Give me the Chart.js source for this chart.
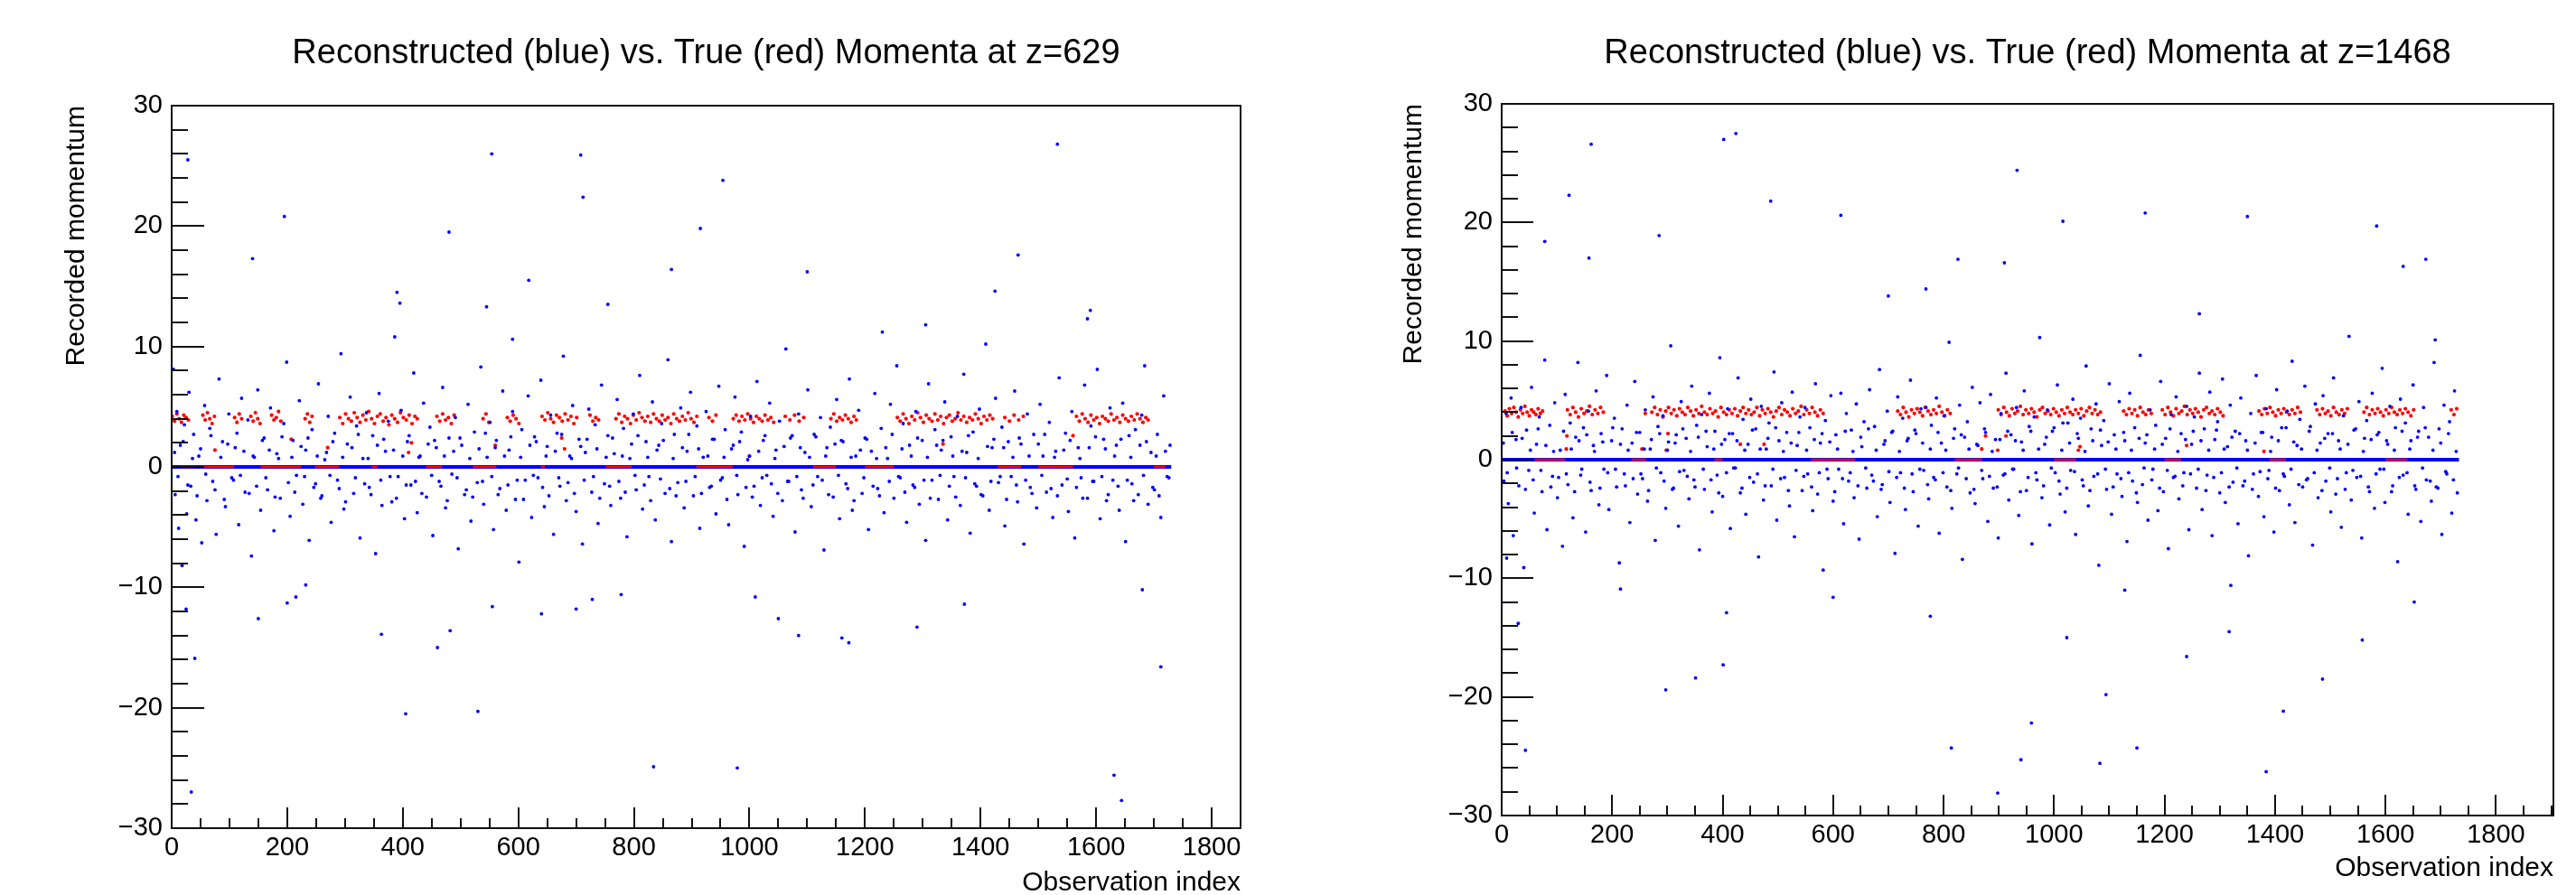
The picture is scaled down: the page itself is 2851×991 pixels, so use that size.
<!DOCTYPE html>
<html>
<head>
<meta charset="utf-8">
<script src="https://cdn.jsdelivr.net/npm/chart.js@4.4.1/dist/chart.umd.min.js"></script>
<style>
  html, body { margin: 0; padding: 0; background: #fff; }
  #wrap { position: relative; width: 2851px; height: 991px; }
  canvas { position: absolute; top: 0; }
</style>
</head>
<body>
<div id="wrap">
  <canvas id="cL" width="1425" height="991" style="left:0"></canvas>
  <canvas id="cR" width="1426" height="991" style="left:1425px"></canvas>
</div>
<script>
// Observation index ranges where the reconstruction sits on 0 (dense blue line)
const blueZeroL = [[0, 1730]];
const blueZeroR = [[0, 1733]];

// Ranges where true momentum sits on 0 and shows over the blue line
const redZeroL = [[14, 42], [49, 108], [154, 224], [248, 290], [346, 356], [440, 468], [521, 562], [639, 646], [751, 796], [908, 971], [1110, 1150], [1200, 1250], [1430, 1470], [1500, 1560], [1700, 1720]];
const redZeroR = [[60, 115], [235, 262], [385, 400], [560, 640], [820, 870], [1000, 1040], [1200, 1230], [1390, 1420], [1600, 1640]];

// True momenta (red), z=629
const redL = [
  [1,4.2],[5,3.8],[9,4.4],[13,4.0],[17,3.7],[21,4.3],[25,4.1],[29,3.9],
  [54,4.3],[58,3.9],[62,4.5],[66,4.0],[70,3.6],[74,4.2],
  [109,4.1],[113,3.7],[117,4.4],[121,4.0],
  [137,4.2],[141,3.8],[145,4.5],[149,4.0],[153,3.6],
  [173,4.3],[177,3.9],[181,4.1],[185,4.6],[189,3.8],
  [231,4.0],[235,4.4],[239,3.7],[243,4.2],
  [291,4.1],[296,3.6],[301,4.4],[306,4.0],[311,3.8],[316,4.5],[321,4.1],[326,3.7],[331,4.3],[336,3.9],[341,4.6],[346,4.0],[351,3.6],[356,4.2],[361,4.4],[366,3.8],[371,4.1],[376,3.5],[381,4.3],[386,4.0],[391,3.7],[396,4.5],[401,4.1],[406,3.9],[411,4.3],[416,3.6],[421,4.2],[425,4.0],
  [459,4.2],[464,3.8],[469,4.4],[474,3.9],[479,4.1],[484,3.6],[489,4.3],
  [539,4.0],[544,4.4],[549,3.7],
  [581,4.1],[586,3.8],[591,4.3],[596,4.0],[601,3.6],
  [641,4.2],[646,3.9],[651,4.5],[656,4.0],[661,3.7],[666,4.3],[671,4.1],[676,3.8],[681,4.4],[686,3.9],[691,4.2],[696,3.6],[701,4.1],
  [724,4.3],[729,3.8],[734,4.1],[739,3.9],
  [769,4.0],[774,4.4],[779,3.7],[784,4.2],[789,4.0],[794,3.6],[799,4.3],[804,3.9],[809,4.5],[814,4.1],[819,3.8],[824,4.2],[829,3.7],[834,4.4],[839,4.0],[844,3.8],[849,4.3],[854,3.9],[859,4.1],[864,3.6],[869,4.4],[874,4.0],[879,3.8],[884,4.2],[889,3.9],[894,4.5],[899,4.0],[904,3.7],[909,4.2],
  [930,4.1],[936,3.8],[942,4.3],
  [972,4.0],[977,4.3],[982,3.8],[987,4.2],[992,3.9],[997,4.4],[1002,4.0],[1007,3.7],[1012,4.2],[1017,4.0],[1022,3.8],[1027,4.3],[1032,3.9],[1037,4.1],[1042,3.7],
  [1062,4.2],[1070,3.9],[1078,4.3],[1086,3.8],[1094,4.1],
  [1141,4.0],[1146,4.4],[1151,3.8],[1156,4.1],[1161,3.9],[1166,4.3],[1171,4.0],[1176,3.7],[1181,4.2],[1185,3.9],
  [1256,4.1],[1261,3.8],[1266,4.4],[1271,4.0],[1276,3.6],[1281,4.2],[1286,3.9],[1291,4.5],[1296,4.1],[1301,3.7],[1306,4.3],[1311,4.0],[1316,3.8],[1321,4.4],[1326,3.9],[1331,4.2],[1336,3.6],[1341,4.1],[1346,4.3],[1351,3.8],[1356,4.0],[1361,4.5],[1366,3.9],[1371,4.2],[1376,3.7],[1381,4.1],[1386,3.9],[1391,4.4],[1396,4.0],[1401,3.6],[1406,4.2],[1411,3.9],[1416,4.3],[1421,4.0],
  [1442,4.1],[1450,3.8],[1458,4.3],[1466,3.9],[1474,4.2],
  [1566,4.2],[1571,3.8],[1576,4.4],[1581,4.0],[1586,3.7],[1591,4.3],[1596,3.9],[1601,4.1],[1606,3.6],[1611,4.2],[1616,4.0],[1621,3.8],[1626,4.4],[1631,3.9],[1636,4.1],[1641,3.7],[1646,4.3],[1651,4.0],[1656,3.8],[1661,4.2],[1666,3.9],[1671,4.4],[1676,4.0],[1681,3.7],[1686,4.1],[1690,3.9],
  [75,1.4],[207,2.3],[270,1.6],[410,1.2],[415,2.0],[560,1.8],[675,2.4],[680,1.5],[1000,0.9],[1335,1.9],[1560,2.6]
];

// Reconstructed momenta (blue), z=629: spread points and outliers
const blueL = [
  [3,8.1],[6,-2.3],[9,4.6],[12,-5.1],[15,1.8],[18,-8.2],[22,3.5],[26,-3.9],[30,6.2],[33,-1.6],[38,2.7],[42,-4.4],[47,0.9],[52,-6.3],[57,5.1],[61,-2.8],[66,3.2],[71,-1.2],[77,-5.6],[82,7.3],[88,2.1],[93,-3.3],[99,4.4],[104,-0.9],[110,1.6],[116,-4.8],[121,5.7],[127,-2.1],[132,3.9],[138,-7.4],[143,0.8],[149,6.4],[154,-3.6],[160,2.4],[166,-1.9],[171,4.9],[177,-5.3],[182,1.1],[188,-2.6],[194,3.6],[199,8.7],[205,-4.1],[210,2.2],[216,-0.7],[221,5.5],[227,-3.1],[232,1.4],[238,-6.1],[243,3.1],[249,-1.4],[254,6.9],[260,-2.4],[265,0.6],[271,4.2],[276,-4.6],[282,2.8],[287,-1.1],[293,9.4],[298,-3.5],[304,1.9],[309,5.8],[315,-2.2],[320,3.4],[326,-5.9],[331,0.7],[337,4.5],[342,-1.7],[348,2.6],[353,-7.2],[359,6.1],[364,-3.2],[370,1.3],[375,3.8],[381,-2.9],[386,10.8],[392,-0.8],[397,4.7],[403,-4.3],[408,2.1],[414,-1.5],[419,7.8],[425,-3.8],[430,0.9],[436,5.3],[441,-2.5],[447,3.3],[452,-5.7],[458,1.6],[463,-1.2],[469,6.6],[474,-3.4],[480,2.4],[485,-0.6],[491,4.1],[496,-6.8],[502,1.8],[507,-2.3],[513,5.2],[518,-4.5],[524,2.9],[529,-1.3],[535,8.3],[540,-3.1],[546,0.8],[551,3.7],[557,-5.2],[562,2.2],[568,-1.8],[573,6.3],[579,-3.6],[584,1.4],[590,4.6],[595,-2.7],[601,-7.9],[606,3.1],[612,-1.1],[617,5.9],[623,-4.2],[628,2.5],[634,-0.9],[639,7.2],[645,-3.3],[650,1.7],[656,4.3],[661,-5.6],[667,2.8],[672,-1.6],[678,9.2],[683,-2.8],[689,0.9],[694,5.1],[700,-3.7],[705,2.3],[711,-6.4],[716,1.2],[722,4.8],[727,-2.1],[733,3.5],[738,-4.7],[744,6.8],[749,-1.4],[755,2.6],[760,-3.2],[766,1.1],[771,5.6],[777,-2.6],[782,3.2],[788,-5.8],[793,0.7],[799,4.4],[804,-1.9],[810,7.6],[815,-3.5],[821,2.1],[826,-0.8],[832,5.4],[837,-4.4],[843,1.8],[848,3.6],[854,-2.2],[859,8.9],[865,-6.2],[870,2.7],[876,-1.3],[881,4.9],[887,-3.4],[892,1.3],[898,6.2],[903,-2.4],[909,3.4],[914,-5.1],[920,0.8],[925,4.6],[931,-1.7],[936,2.3],[942,-3.9],[947,6.7],[953,-0.9],[958,3.1],[964,-4.8],[969,1.5],[975,5.8],[980,-2.3],[986,2.9],[991,-6.6],[997,0.6],[1002,4.2],[1008,-1.6],[1013,7.1],[1019,-3.2],[1024,2.2],[1030,-0.7],[1035,5.3],[1041,-4.1],[1046,1.4],[1052,3.8],[1057,-2.8],[1063,9.8],[1068,-1.2],[1074,2.6],[1079,-5.4],[1085,4.4],[1090,-1.9],[1096,1.2],[1101,6.4],[1107,-3.3],[1112,2.7],[1118,-0.8],[1123,4.1],[1129,-6.9],[1134,1.6],[1140,3.3],[1145,-2.5],[1151,5.6],[1156,-4.3],[1162,2.1],[1167,-1.4],[1173,7.3],[1178,-3.6],[1184,0.9],[1189,4.7],[1195,-2.2],[1200,2.4],[1206,-5.2],[1211,1.3],[1217,6.1],[1222,-1.8],[1228,3.2],[1233,-3.8],[1239,0.7],[1244,5.2],[1250,-2.6],[1255,8.4],[1261,-0.9],[1266,3.6],[1272,-4.6],[1277,1.8],[1283,-1.5],[1288,4.6],[1294,-3.1],[1299,2.2],[1305,-6.1],[1310,6.9],[1316,-1.1],[1321,3.1],[1327,-2.7],[1332,1.4],[1338,5.4],[1343,-4.4],[1349,2.5],[1354,-0.8],[1360,4.2],[1365,-3.2],[1371,7.7],[1376,1.2],[1382,-5.5],[1387,2.9],[1393,-1.6],[1398,4.8],[1404,-2.4],[1409,10.2],[1415,-3.6],[1420,1.6],[1426,5.7],[1431,-1.3],[1437,3.3],[1442,-4.9],[1448,2.1],[1453,-0.8],[1459,6.3],[1464,-2.9],[1470,1.9],[1475,-6.4],[1481,4.4],[1486,-1.7],[1492,2.7],[1497,-3.4],[1503,5.2],[1508,0.9],[1514,-2.1],[1519,3.7],[1525,-4.2],[1530,1.3],[1536,7.4],[1541,-1.5],[1547,2.8],[1552,-3.7],[1558,4.6],[1563,-5.9],[1569,1.6],[1574,-0.9],[1580,6.8],[1585,-2.6],[1591,3.4],[1596,-1.2],[1602,8.1],[1607,-4.3],[1613,2.3],[1618,-2.8],[1624,4.9],[1629,-1.1],[1635,1.8],[1640,-3.6],[1646,5.3],[1651,-6.2],[1657,2.6],[1662,-1.4],[1668,3.1],[1673,-2.3],[1679,4.3],[1684,8.4],[1690,-3.1],[1695,1.2],[1701,-1.9],[1706,2.7],[1712,-4.2],[1717,5.9],[1723,-0.8],[1728,1.8],
  [28,25.5],[554,26.0],[708,25.9],[712,22.4],[954,23.8],[1533,26.8],[195,20.8],[140,17.3],[480,19.5],[915,19.8],[865,16.4],[1100,16.2],[618,15.5],[390,14.5],[395,13.6],[545,13.3],[755,13.5],[1590,13.0],[1585,12.3],[1465,17.6],[1425,14.6],[1305,11.8],[1230,11.2],[590,10.6],
  [40,-15.9],[34,-27.0],[25,-11.8],[200,-11.3],[215,-10.8],[232,-9.8],[405,-20.5],[460,-15.0],[482,-13.6],[530,-20.3],[555,-11.6],[700,-11.8],[728,-11.0],[778,-10.6],[834,-24.9],[979,-25.0],[1050,-12.6],[1085,-14.0],[1160,-14.2],[1172,-14.6],[1290,-13.3],[1372,-11.4],[1631,-25.6],[1644,-27.7],[1680,-10.2],[1712,-16.6],[1010,-10.8],[640,-12.2],[363,-13.9],[150,-12.6]
];

// Reconstructed momenta (blue), z=629: points close to zero
const blueNearL = [
  [5,1.2],[11,-0.8],[20,2.1],[28,-1.5],[36,0.7],[44,-2.4],[50,1.5],[59,-0.6],[68,2.6],[75,-1.9],[85,0.8],[91,-2.7],[97,1.9],[107,-1.1],[113,2.8],[119,-0.7],[125,1.3],[134,-2.2],[141,0.9],[147,-1.6],[157,2.2],[163,-0.9],[169,1.4],[179,-2.5],[185,0.7],[191,2.5],[202,-1.3],[208,0.8],[213,-2.1],[224,1.7],[230,-0.8],[236,2.4],[246,-1.7],[252,0.9],[258,-2.6],[268,1.2],[274,-0.7],[279,2.1],[290,-1.8],[296,0.8],[301,-2.9],[312,1.6],[318,-0.9],[323,2.7],[334,-1.4],[340,0.7],[345,-2.3],[356,1.8],[362,-1.1],[367,2.3],[378,-0.8],[384,1.4],[389,-2.6],[400,0.9],[406,-1.5],[411,2.6],[422,-1.2],[428,0.8],[433,-2.2],[444,1.9],[450,-0.7],[455,2.2],[466,-1.6],[472,0.9],[477,-2.8],[488,1.3],[494,-0.9],[499,2.4],[510,-1.9],[516,0.7],[521,-2.5],[532,1.5],[538,-1.2],[543,2.8],[554,-0.8],[560,1.6],[565,-2.3],[576,0.9],[582,-1.5],[587,2.5],[598,-1.1],[604,0.8],[609,-2.7],[620,1.8],[626,-0.7],[631,2.1],[642,-1.7],[648,0.9],[653,-2.4],[664,1.3],[670,-0.9],[675,2.7],[686,-1.3],[692,0.7],[697,-2.2],[708,1.7],[714,-1.1],[719,2.3],[730,-0.8],[736,1.5],[741,-2.6],[752,0.8],[758,-1.6],[763,2.4],[774,-1.2],[780,0.9],[785,-2.1],[796,1.9],[802,-0.7],[807,2.6],[818,-1.5],[824,0.8],[829,-2.8],[840,1.4],[846,-1.0],[851,2.2],[862,-1.8],[868,0.7],[873,-2.4],[884,1.6],[890,-1.2],[895,2.7],[906,-0.8],[912,1.5],[917,-2.2],[928,0.9],[934,-1.6],[939,2.3],[950,-1.1],[956,0.8],[961,-2.7],[972,1.8],[978,-0.7],[983,2.1],[994,-1.7],[1000,0.9],[1005,-2.5],[1016,1.3],[1022,-0.9],[1027,2.6],[1038,-1.4],[1044,0.7],[1049,-2.2],[1060,1.7],[1066,-1.2],[1071,2.4],[1082,-0.8],[1088,1.6],[1093,-2.6],[1104,0.8],[1110,-1.5],[1115,2.5],[1126,-1.1],[1132,0.9],[1137,-2.3],[1148,1.9],[1154,-0.7],[1159,2.2],[1170,-1.8],[1176,0.8],[1181,-2.8],[1192,1.4],[1198,-0.9],[1203,2.3],[1214,-1.6],[1220,0.7],[1225,-2.4],[1236,1.6],[1242,-1.2],[1247,2.7],[1258,-0.8],[1264,1.5],[1269,-2.1],[1280,0.9],[1286,-1.7],[1291,2.4],[1302,-1.1],[1308,0.8],[1313,-2.6],[1324,1.8],[1330,-0.7],[1335,2.2],[1346,-1.6],[1352,0.9],[1357,-2.5],[1368,1.3],[1374,-0.9],[1379,2.6],[1390,-1.4],[1396,0.7],[1401,-2.3],[1412,1.7],[1418,-1.2],[1423,2.3],[1434,-0.8],[1440,1.6],[1445,-2.7],[1456,0.8],[1462,-1.5],[1467,2.4],[1478,-1.1],[1484,0.9],[1489,-2.2],[1500,1.9],[1506,-0.7],[1511,2.7],[1522,-1.8],[1528,0.8],[1533,-2.4],[1544,1.4],[1550,-1.0],[1555,2.2],[1566,-1.7],[1572,0.7],[1577,-2.6],[1588,1.6],[1594,-1.2],[1599,2.5],[1610,-0.8],[1616,1.5],[1621,-2.3],[1632,0.9],[1638,-1.6],[1643,2.3],[1654,-1.1],[1660,0.8],[1665,-2.8],[1676,1.8],[1682,-0.7],[1687,2.1],[1698,-1.7],[1704,0.9],[1709,-2.4],[1720,1.3],[1726,-0.9]
];

// True momenta (red), z=1468
const redR = [
  [6,4.1],[10,3.7],[14,4.3],[18,3.9],[22,4.4],[26,4.0],[30,3.6],[34,4.2],[38,3.9],[42,4.5],[46,4.0],[50,3.7],[54,4.2],[58,4.0],[62,3.8],[66,4.3],[70,3.9],[74,4.1],
  [119,4.2],[124,3.8],[129,4.4],[134,4.0],[139,3.6],[144,4.3],[149,3.9],[154,4.1],[159,4.5],[164,3.8],[169,4.2],[174,3.9],[179,4.4],[184,4.0],
  [260,3.9],
  [272,4.0],[277,4.4],[282,3.8],[287,4.2],[292,3.6],[297,4.1],[302,4.4],[307,3.9],[312,4.2],[317,3.7],[322,4.3],[327,4.0],[332,3.8],[337,4.4],[342,4.1],[347,3.7],[352,4.2],[357,3.9],[362,4.5],[367,4.0],[372,3.8],[377,4.3],[382,3.9],[387,4.1],[392,3.6],[397,4.4],[402,4.0],[407,3.8],[412,4.2],[417,3.9],[422,4.3],[427,3.7],[432,4.1],[437,4.4],[442,3.9],[447,4.2],[452,3.8],[457,4.0],[462,4.4],[467,3.7],[472,4.2],[477,3.9],[482,4.3],[487,4.0],[492,3.6],[497,4.1],[502,4.4],[507,3.8],[512,4.2],[517,4.0],[522,3.7],[527,4.3],[532,3.9],[537,4.1],[542,4.5],[547,3.8],[552,4.2],[557,3.9],[562,4.4],[567,4.0],[572,3.7],[577,4.2],[582,3.9],
  [717,4.1],[722,3.8],[727,4.4],[732,4.0],[737,3.6],[742,4.2],[747,3.9],[752,4.3],[757,4.0],[762,3.7],[767,4.4],[772,4.1],[777,3.8],[782,4.2],[787,3.9],[792,4.5],[797,4.0],[802,3.7],[807,4.2],[812,3.9],
  [899,4.2],[904,3.8],[909,4.4],[914,4.0],[919,3.7],[924,4.3],[929,3.9],[934,4.1],[939,4.5],[944,3.8],[949,4.2],[954,3.9],[959,4.3],[964,4.0],[969,3.6],[974,4.2],[979,4.4],[984,3.9],[989,4.1],[994,3.8],[999,4.3],[1004,4.0],[1009,3.7],[1014,4.2],[1019,3.9],[1024,4.4],[1029,4.0],[1034,3.8],[1039,4.2],[1044,3.9],[1049,4.3],[1054,3.7],[1059,4.1],[1064,4.4],[1069,3.9],[1074,4.2],[1079,3.8],[1084,4.0],
  [1126,4.1],[1131,3.8],[1136,4.3],[1141,3.9],[1146,4.2],[1151,3.7],[1156,4.4],[1161,4.0],[1166,3.8],[1171,4.2],[1176,3.9],
  [1196,4.2],[1201,3.8],[1206,4.4],[1211,4.0],[1216,3.7],[1221,4.3],[1226,3.9],[1231,4.1],[1236,4.5],[1241,3.8],[1246,4.2],[1251,3.9],[1256,4.3],[1261,4.0],[1266,3.6],[1271,4.2],[1276,4.4],[1281,3.9],[1286,4.1],[1291,3.8],[1296,4.3],[1301,4.0],[1306,3.7],
  [1371,4.1],[1376,3.8],[1381,4.3],[1386,3.9],[1391,4.4],[1396,4.0],[1401,3.7],[1406,4.2],[1411,3.9],[1416,4.3],[1421,4.0],[1426,3.8],[1431,4.2],[1436,3.9],[1441,4.4],[1446,4.0],
  [1476,4.2],[1481,3.8],[1486,4.3],[1491,3.9],[1496,4.1],[1501,3.7],[1506,4.4],[1511,4.0],[1516,3.8],[1521,4.2],[1526,3.9],[1531,4.3],
  [1561,4.0],[1566,4.4],[1571,3.8],[1576,4.2],[1581,3.9],[1586,4.3],[1591,4.0],[1596,3.7],[1601,4.2],[1606,3.9],[1611,4.4],[1616,4.0],[1621,3.8],[1626,4.2],[1631,3.9],[1636,4.3],[1641,4.0],[1646,3.7],[1651,4.2],
  [1719,4.2],[1724,3.8],[1729,4.3],
  [118,2.0],[117,0.9],[254,0.9],[298,0.8],[301,2.2],[432,1.3],[475,1.3],[869,0.9],[876,2.0],[913,2.0],[898,0.8],[1044,0.8],[1047,1.1],[1240,1.2],[1380,0.7]
];

// Reconstructed momenta (blue), z=1468: spread points and outliers
const blueR = [
  [4,-1.8],[8,3.9],[12,-3.7],[17,5.2],[21,-6.4],[26,1.7],[31,-2.2],[35,4.4],[40,-9.1],[45,2.5],[49,-0.9],[54,6.1],[59,-4.5],[63,1.3],[68,3.6],[73,-2.7],[78,8.4],[82,-5.9],[87,2.9],[92,-1.4],[96,4.8],[101,-3.2],[106,0.8],[110,-7.3],[115,5.5],[120,-2.1],[124,3.1],[129,-4.9],[134,1.9],[138,8.2],[143,-1.3],[148,2.7],[152,-6.1],[157,4.1],[162,-2.6],[166,1.2],[171,5.8],[176,-3.8],[180,2.2],[185,-0.8],[190,7.1],[194,-4.2],[199,1.6],[204,3.5],[208,-2.3],[213,-8.7],[218,2.6],[222,-1.2],[227,4.6],[232,-5.3],[236,1.4],[241,6.6],[246,-2.9],[250,2.3],[255,-1.6],[260,4.2],[264,-3.5],[269,0.9],[274,5.3],[278,-6.8],[283,2.8],[288,-1.1],[292,3.7],[297,-4.1],[302,1.5],[306,9.6],[311,-2.4],[316,2.1],[320,-5.6],[325,4.9],[330,-0.9],[334,1.8],[339,-3.3],[344,6.2],[348,-1.7],[353,2.9],[358,-7.6],[362,3.8],[367,-2.5],[372,1.1],[376,5.6],[381,-4.4],[386,2.4],[390,-1.3],[395,8.6],[400,-3.1],[404,1.7],[409,4.3],[414,-5.8],[418,2.2],[423,-0.7],[428,6.9],[432,-2.8],[437,3.4],[442,-4.6],[446,1.3],[451,5.1],[456,-1.9],[460,2.6],[465,-8.2],[470,4.5],[474,-3.4],[479,0.9],[484,3.1],[488,-2.2],[493,7.4],[498,-5.1],[502,1.6],[507,4.8],[512,-1.5],[516,2.3],[521,-3.9],[526,5.7],[530,-6.5],[535,1.2],[540,3.6],[544,-2.6],[549,4.4],[554,-1.2],[558,2.7],[563,-4.3],[568,6.4],[572,-2.9],[577,1.4],[582,-9.3],[586,3.3],[591,-1.6],[596,5.4],[600,-3.5],[605,2.1],[610,-0.8],[614,5.6],[619,-5.4],[624,3.9],[628,-1.8],[633,2.5],[638,-3.2],[642,4.7],[647,-6.7],[652,1.1],[656,3.2],[661,-2.4],[666,5.9],[670,-1.3],[675,2.8],[680,-4.8],[684,7.6],[689,-2.1],[694,1.6],[698,4.1],[703,-3.6],[708,2.4],[712,-7.9],[717,5.3],[722,-1.1],[726,3.5],[731,-4.2],[736,1.8],[740,6.7],[745,-2.7],[750,2.2],[754,-5.6],[759,4.3],[764,-0.9],[768,4.4],[773,-3.3],[778,2.9],[782,-1.5],[787,5.2],[792,-6.2],[796,1.4],[801,3.7],[806,-2.3],[810,9.9],[815,-4.1],[820,2.6],[824,-1.2],[829,4.6],[834,-8.4],[838,1.9],[843,3.2],[848,-2.8],[852,6.1],[857,-3.7],[862,1.2],[866,4.8],[871,-1.6],[876,2.3],[880,-5.2],[885,5.5],[890,-2.4],[894,1.7],[899,-6.6],[904,3.9],[908,-1.3],[913,7.3],[918,-3.4],[922,2.1],[927,-0.8],[932,4.4],[936,-4.7],[941,1.5],[946,5.8],[950,-2.6],[955,2.8],[960,-7.1],[964,3.6],[969,-1.7],[974,10.3],[978,-3.2],[983,1.3],[988,4.2],[992,-5.5],[997,2.4],[1002,-1.1],[1006,6.3],[1011,-2.9],[1016,3.1],[1020,-4.4],[1025,3.1],[1030,-0.9],[1034,5.1],[1039,-6.3],[1044,1.8],[1048,3.5],[1053,-2.2],[1058,7.9],[1062,-3.9],[1067,2.6],[1072,-1.4],[1076,4.7],[1081,-8.9],[1086,1.2],[1090,3.3],[1095,-2.5],[1100,6.4],[1104,-4.6],[1109,2.1],[1114,-1.2],[1118,4.9],[1123,-3.1],[1128,1.6],[1132,-6.9],[1137,5.6],[1142,-1.8],[1146,2.7],[1151,-3.6],[1156,8.8],[1160,-2.1],[1165,1.4],[1170,-5.1],[1174,4.2],[1179,-0.8],[1184,2.9],[1188,-4.3],[1193,6.6],[1198,-2.7],[1202,1.8],[1207,-7.5],[1212,3.8],[1216,-1.5],[1221,5.3],[1226,-3.3],[1230,2.2],[1235,-1.1],[1240,4.5],[1244,-5.9],[1249,1.3],[1254,3.6],[1258,-2.4],[1263,7.3],[1268,-4.2],[1272,2.6],[1277,-1.3],[1282,5.7],[1286,-6.4],[1291,1.7],[1296,3.2],[1300,-2.8],[1305,6.8],[1310,-3.6],[1314,1.1],[1319,4.6],[1324,-1.9],[1328,2.4],[1333,-5.4],[1338,5.2],[1342,-2.2],[1347,1.6],[1352,-8.1],[1356,3.9],[1361,-1.2],[1366,7.1],[1370,-3.1],[1375,2.3],[1380,-4.8],[1384,4.3],[1389,-0.9],[1394,1.9],[1398,-6.1],[1403,5.9],[1408,-2.6],[1412,2.7],[1417,-1.4],[1422,4.1],[1426,-3.8],[1431,8.3],[1436,-5.3],[1440,1.2],[1445,3.4],[1450,-2.3],[1454,6.2],[1459,-1.6],[1464,2.8],[1468,-7.2],[1473,4.7],[1478,-3.2],[1482,1.4],[1487,5.4],[1492,-1.8],[1496,2.2],[1501,-4.4],[1506,6.9],[1510,-2.9],[1515,1.6],[1520,-5.7],[1524,3.7],[1529,-1.1],[1534,10.4],[1538,-3.4],[1543,2.5],[1548,-1.5],[1552,4.9],[1557,-6.6],[1562,1.8],[1566,3.3],[1571,-2.7],[1576,5.6],[1580,-4.1],[1585,2.1],[1590,-0.8],[1594,7.7],[1599,-3.6],[1604,1.3],[1608,4.5],[1613,-2.2],[1618,2.7],[1622,-8.6],[1627,5.1],[1632,-1.3],[1636,3.1],[1641,-4.6],[1646,1.6],[1650,6.3],[1655,-2.5],[1660,2.4],[1664,-5.2],[1669,4.4],[1674,-1.7],[1678,1.9],[1683,-3.5],[1688,8.2],[1692,-2.3],[1697,2.6],[1702,-6.3],[1706,4.6],[1711,-1.2],[1716,3.2],[1720,-4.5],[1725,5.8],[1730,-2.8],
  [162,26.6],[402,27.0],[424,27.5],[933,24.4],[122,22.3],[487,21.8],[285,18.9],[158,17.0],[78,18.4],[614,20.6],[1016,20.1],[1165,20.8],[1350,20.5],[826,16.9],[910,16.6],[1584,19.7],[1632,16.3],[1673,16.9],[768,14.4],[700,13.8],[1263,12.3],[1690,10.1],
  [43,-24.5],[814,-24.3],[1150,-24.3],[940,-25.3],[1083,-25.6],[1384,-26.3],[898,-28.1],[959,-22.2],[9,-8.3],[30,-13.8],[297,-19.4],[351,-18.4],[407,-12.9],[401,-17.3],[776,-13.2],[1094,-19.8],[1023,-15.0],[1240,-16.6],[1317,-14.5],[1415,-21.2],[1486,-18.5],[1558,-15.2],[600,-11.6],[1128,-11.0],[1320,-10.6],[215,-10.9],[1652,-12.0]
];

// Reconstructed momenta (blue), z=1468: points close to zero
const blueNearR = [
  [3,1.4],[10,-1.1],[19,2.3],[27,-0.7],[37,1.8],[43,-2.5],[52,0.8],[57,-1.7],[66,2.6],[71,-0.9],[80,1.2],[89,-2.3],[94,0.7],[103,-1.5],[112,2.4],[117,-1.2],[126,0.9],[132,-2.7],[140,1.6],[145,-0.8],[154,2.1],[160,-1.9],[168,0.7],[178,-2.4],[183,1.5],[192,-1.1],[201,2.7],[206,-0.8],[215,1.3],[224,-2.2],[229,0.8],[238,-1.6],[244,2.3],[252,-1.2],[258,0.9],[266,-2.6],[271,1.7],[280,-0.7],[286,2.2],[294,-1.8],[300,0.8],[309,-2.5],[314,1.4],[322,-1.0],[328,2.6],[336,-1.4],[342,0.7],[350,-2.3],[356,1.9],[365,-0.8],[370,2.4],[379,-1.7],[384,0.9],[393,-2.8],[398,1.3],[407,-1.1],[412,2.2],[420,-0.7],[426,1.6],[435,-2.4],[440,0.8],[449,-1.5],[454,2.5],[463,-1.2],[468,0.9],[477,-2.2],[482,1.8],[491,-0.8],[496,2.7],[505,-1.6],[510,0.7],[519,-2.6],[524,1.4],[533,-0.9],[538,2.3],[547,-1.4],[552,0.8],[561,-2.3],[566,1.7],[575,-1.1],[580,2.2],[589,-0.8],[594,1.5],[603,-2.7],[608,0.9],[617,-1.6],[622,2.4],[631,-1.1],[636,0.7],[645,-2.2],[650,1.9],[659,-0.7],[664,2.6],[673,-1.8],[678,0.8],[687,-2.5],[692,1.3],[701,-1.0],[706,2.3],[715,-1.5],[720,0.7],[729,-2.4],[734,1.6],[743,-1.2],[748,2.5],[757,-0.8],[762,1.4],[771,-2.1],[776,0.9],[785,-1.7],[790,2.3],[799,-1.1],[804,0.8],[813,-2.6],[818,1.8],[827,-0.7],[832,2.1],[841,-1.6],[846,0.9],[855,-2.5],[860,1.3],[869,-0.9],[874,2.6],[883,-1.4],[888,0.7],[897,-2.3],[902,1.7],[911,-1.2],[916,2.4],[925,-0.8],[930,1.6],[939,-2.7],[944,0.8],[953,-1.5],[958,2.4],[967,-1.1],[972,0.9],[981,-2.2],[986,1.9],[995,-0.7],[1000,2.7],[1009,-1.8],[1014,0.8],[1023,-2.4],[1028,1.4],[1037,-1.0],[1042,2.2],[1051,-1.7],[1056,0.7],[1065,-2.6],[1070,1.6],[1079,-1.2],[1084,2.5],[1093,-0.8],[1098,1.5],[1107,-2.3],[1112,0.9],[1121,-1.6],[1126,2.3],[1135,-1.1],[1140,0.8],[1149,-2.8],[1154,1.8],[1163,-0.7],[1168,2.1],[1177,-1.7],[1182,0.9],[1191,-2.4],[1196,1.3],[1205,-0.9],[1210,2.6],[1219,-1.4],[1224,0.7],[1233,-2.2],[1238,1.7],[1247,-1.2],[1252,2.4],[1261,-0.8],[1266,1.6],[1275,-2.6],[1280,0.8],[1289,-1.5],[1294,2.5],[1303,-1.1],[1308,0.9],[1317,-2.3],[1322,1.9],[1331,-0.7],[1336,2.2],[1345,-1.8],[1350,0.8],[1359,-2.5],[1364,1.4],[1373,-1.0],[1378,2.3],[1387,-1.6],[1392,0.7],[1401,-2.4],[1406,1.6],[1415,-1.2],[1420,2.7],[1429,-0.8],[1434,1.5],[1443,-2.1],[1448,0.9],[1457,-1.7],[1462,2.4],[1471,-1.1],[1476,0.8],[1485,-2.6],[1490,1.8],[1499,-0.7],[1504,2.2],[1513,-1.6],[1518,0.9],[1527,-2.5],[1532,1.3],[1541,-0.9],[1546,2.6],[1555,-1.4],[1560,0.7],[1569,-2.3],[1574,1.7],[1583,-1.2],[1588,2.3],[1597,-0.8],[1602,1.6],[1611,-2.7],[1616,0.8],[1625,-1.5],[1630,2.4],[1639,-1.1],[1644,0.9],[1653,-2.2],[1658,1.9],[1667,-0.7],[1672,2.7],[1681,-1.8],[1686,0.8],[1695,-2.4],[1700,1.4],[1709,-1.0],[1714,2.2],[1723,-1.7],[1728,0.7]
];

const Y_TICKS = [-30, -20, -10, 0, 10, 20, 30];
const X_TICKS = [0, 200, 400, 600, 800, 1000, 1200, 1400, 1600, 1800];

const FONT = '"Liberation Sans", Arial, Helvetica, sans-serif';

function toPts(pairs) {
  return pairs.map(([x, y]) => ({ x, y }));
}

function toSegments(ranges) {
  const out = [];
  ranges.forEach(([a, b]) => {
    out.push({ x: a, y: 0 }, { x: b, y: 0 }, { x: b, y: null });
  });
  return out;
}

function fmtMinus(v) {
  return v < 0 ? '\u2212' + Math.abs(v) : String(v);
}

// ROOT-like frame: box, inward ticks, title and axis titles
const rootFrame = {
  id: 'rootFrame',
  afterDraw(chart) {
    const o = chart.options.plugins.rootFrame;
    const { ctx, chartArea: a } = chart;
    const xs = chart.scales.x, ys = chart.scales.y;
    ctx.save();
    ctx.strokeStyle = '#111';
    ctx.lineWidth = 2;
    ctx.strokeRect(a.left, a.top, a.right - a.left, a.bottom - a.top);

    ctx.beginPath();
    for (let v = ys.min; v <= ys.max + 1e-6; v += 2) {
      const py = Math.round(ys.getPixelForValue(v));
      const len = v % 10 === 0 ? o.yMajor : o.yMinor;
      ctx.moveTo(a.left, py);
      ctx.lineTo(a.left + len, py);
    }
    for (let v = 0; v <= xs.max + 1e-6; v += 50) {
      const px = Math.round(xs.getPixelForValue(v));
      const len = v % 200 === 0 ? o.xMajor : o.xMinor;
      ctx.moveTo(px, a.bottom);
      ctx.lineTo(px, a.bottom - len);
    }
    ctx.stroke();

    ctx.fillStyle = '#000';
    ctx.font = `${o.titleSize}px ${FONT}`;
    ctx.textAlign = 'center';
    ctx.textBaseline = 'alphabetic';
    ctx.fillText(o.title, (a.left + a.right) / 2, o.titleBase);

    ctx.font = `30px ${FONT}`;
    ctx.textAlign = 'right';
    ctx.fillText('Observation index', a.right, o.xTitleBase);

    ctx.translate(o.yTitleBase, a.top);
    ctx.rotate(-Math.PI / 2);
    ctx.textAlign = 'right';
    ctx.fillText('Recorded momentum', 0, 0);
    ctx.restore();
  }
};

function makeChart(id, p, blue, blueNear, red, blueZero, redZero) {
  const ctx = document.getElementById(id);
  return new Chart(ctx, {
    type: 'scatter',
    data: {
      datasets: [
        { label: 'reco', data: toPts(blue), backgroundColor: '#0000ff', borderWidth: 0, pointRadius: 1.9 },
        { label: 'reco near 0', data: toPts(blueNear), backgroundColor: '#0000ff', borderWidth: 0, pointRadius: 1.9 },
        { label: 'true', data: toPts(red), backgroundColor: '#ff0000', borderWidth: 0, pointRadius: 2.1 },
        { label: 'true0', data: toSegments(redZero), showLine: true, borderColor: '#ff0000', borderWidth: 2.5, pointRadius: 0, spanGaps: false },
        { label: 'reco0', data: toSegments(blueZero), showLine: true, borderColor: '#0000ff', borderWidth: 4, pointRadius: 0, spanGaps: false },
      ],
    },
    options: {
      responsive: false,
      animation: false,
      devicePixelRatio: 1,
      layout: { padding: p.pad },
      plugins: {
        legend: { display: false },
        tooltip: { enabled: false },
        rootFrame: p,
      },
      scales: {
        x: {
          type: 'linear',
          min: 0,
          max: p.xMax,
          afterFit: (s) => { s.height = p.xH; },
          afterBuildTicks: (s) => { s.ticks = X_TICKS.map((v) => ({ value: v })); },
          grid: { display: false, drawTicks: false },
          border: { display: false },
          ticks: { color: '#000', font: { family: FONT, size: 29 }, padding: 5, maxRotation: 0, autoSkip: false, callback: (v) => String(v) },
        },
        y: {
          type: 'linear',
          min: -30,
          max: 30,
          afterFit: (s) => { s.width = p.yW; },
          afterBuildTicks: (s) => { s.ticks = Y_TICKS.map((v) => ({ value: v })); },
          grid: { display: false, drawTicks: false },
          border: { display: false },
          ticks: { color: '#000', font: { family: FONT, size: 29 }, padding: 10, autoSkip: false, callback: fmtMinus },
        },
      },
    },
    plugins: [rootFrame],
  });
}

makeChart('cL', {
  pad: { top: 117, right: 52, bottom: 0, left: 0 }, yW: 190, xH: 74, xMax: 1850,
  title: 'Reconstructed (blue) vs. True (red) Momenta at z=629', titleSize: 38, titleBase: 70,
  xTitleBase: 986, yTitleBase: 93, yMajor: 36, yMinor: 18, xMajor: 23, xMinor: 11,
}, blueL, blueNearL, redL, blueZeroL, redZeroL);

makeChart('cR', {
  pad: { top: 115, right: 25, bottom: 0, left: 0 }, yW: 237, xH: 88, xMax: 1904,
  title: 'Reconstructed (blue) vs. True (red) Momenta at z=1468', titleSize: 38, titleBase: 70,
  xTitleBase: 970, yTitleBase: 148, yMajor: 35, yMinor: 18, xMajor: 23, xMinor: 11,
}, blueR, blueNearR, redR, blueZeroR, redZeroR);
</script>
</body>
</html>
